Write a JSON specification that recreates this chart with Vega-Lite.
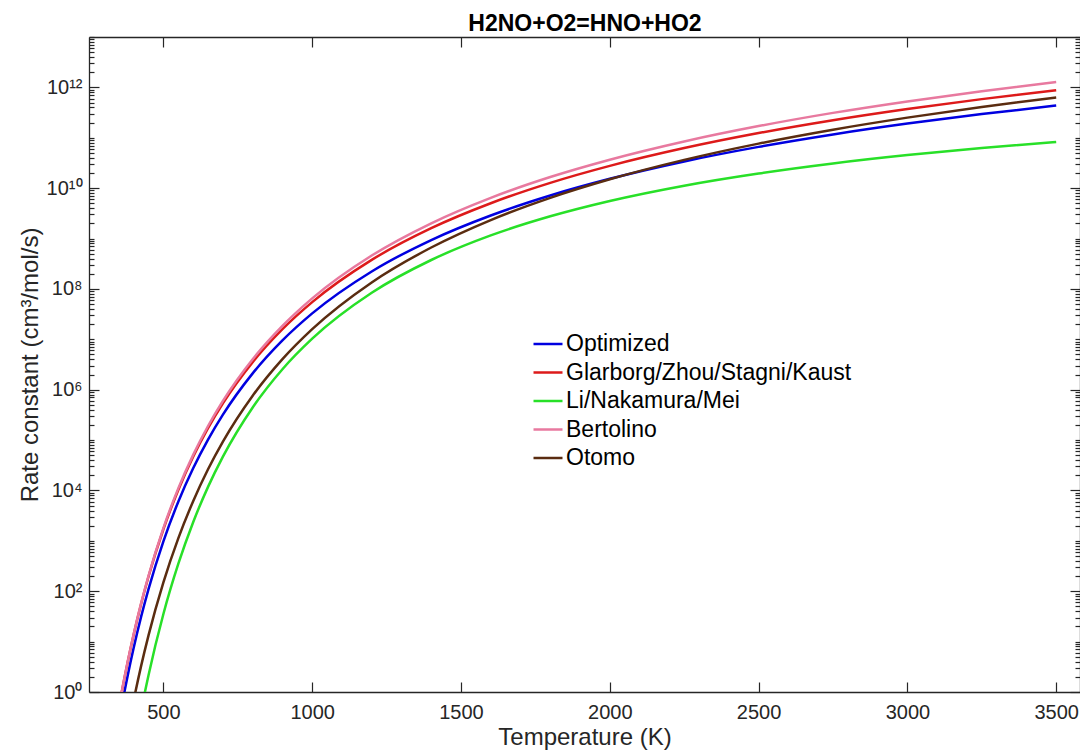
{
  "$schema": "https://vega.github.io/schema/vega-lite/v6.json",
  "width": 991,
  "height": 655,
  "autosize": {"type": "none"},
  "padding": {"left": 89, "top": 37, "right": 0, "bottom": 61},
  "background": "white",
  "config": {
    "font": "Liberation Sans",
    "view": {"stroke": null},
    "axis": {
      "grid": false,
      "domainColor": "#262626",
      "domainWidth": 1.3,
      "tickColor": "#262626",
      "tickWidth": 1.2,
      "labelColor": "#262626",
      "labelFont": "Liberation Sans",
      "labelFontSize": 20,
      "titleColor": "#262626",
      "titleFont": "Liberation Sans",
      "titleFontSize": 24,
      "titleFontWeight": "normal",
      "labelFlush": false,
      "labelOverlap": false,
      "labelBound": false
    }
  },
  "data": {
    "values": [
      {"model": "Optimized", "T": 340, "k": 0.111},
      {"model": "Optimized", "T": 360, "k": 0.524},
      {"model": "Optimized", "T": 380, "k": 2.11},
      {"model": "Optimized", "T": 400, "k": 7.46},
      {"model": "Optimized", "T": 425, "k": 30.9},
      {"model": "Optimized", "T": 450, "k": 110},
      {"model": "Optimized", "T": 500, "k": 977},
      {"model": "Optimized", "T": 550, "k": 5970},
      {"model": "Optimized", "T": 600, "k": 2.75e4},
      {"model": "Optimized", "T": 650, "k": 1.023e5},
      {"model": "Optimized", "T": 700, "k": 3.2e5},
      {"model": "Optimized", "T": 800, "k": 2.11e6},
      {"model": "Optimized", "T": 900, "k": 9.51e6},
      {"model": "Optimized", "T": 1000, "k": 3.27e7},
      {"model": "Optimized", "T": 1200, "k": 2.22e8},
      {"model": "Optimized", "T": 1400, "k": 9.33e8},
      {"model": "Optimized", "T": 1600, "k": 2.87e9},
      {"model": "Optimized", "T": 1800, "k": 7.16e9},
      {"model": "Optimized", "T": 2000, "k": 1.531e10},
      {"model": "Optimized", "T": 2250, "k": 3.39e10},
      {"model": "Optimized", "T": 2500, "k": 6.59e10},
      {"model": "Optimized", "T": 2750, "k": 1.164e11},
      {"model": "Optimized", "T": 3000, "k": 1.91e11},
      {"model": "Optimized", "T": 3250, "k": 2.95e11},
      {"model": "Optimized", "T": 3500, "k": 4.36e11},

      {"model": "Glarborg/Zhou/Stagni/Kaust", "T": 340, "k": 0.216},
      {"model": "Glarborg/Zhou/Stagni/Kaust", "T": 360, "k": 0.997},
      {"model": "Glarborg/Zhou/Stagni/Kaust", "T": 380, "k": 3.94},
      {"model": "Glarborg/Zhou/Stagni/Kaust", "T": 400, "k": 13.7},
      {"model": "Glarborg/Zhou/Stagni/Kaust", "T": 425, "k": 55.7},
      {"model": "Glarborg/Zhou/Stagni/Kaust", "T": 450, "k": 196},
      {"model": "Glarborg/Zhou/Stagni/Kaust", "T": 500, "k": 1698},
      {"model": "Glarborg/Zhou/Stagni/Kaust", "T": 550, "k": 1.023e4},
      {"model": "Glarborg/Zhou/Stagni/Kaust", "T": 600, "k": 4.67e4},
      {"model": "Glarborg/Zhou/Stagni/Kaust", "T": 650, "k": 1.722e5},
      {"model": "Glarborg/Zhou/Stagni/Kaust", "T": 700, "k": 5.36e5},
      {"model": "Glarborg/Zhou/Stagni/Kaust", "T": 800, "k": 3.52e6},
      {"model": "Glarborg/Zhou/Stagni/Kaust", "T": 900, "k": 1.585e7},
      {"model": "Glarborg/Zhou/Stagni/Kaust", "T": 1000, "k": 5.47e7},
      {"model": "Glarborg/Zhou/Stagni/Kaust", "T": 1200, "k": 3.77e8},
      {"model": "Glarborg/Zhou/Stagni/Kaust", "T": 1400, "k": 1.607e9},
      {"model": "Glarborg/Zhou/Stagni/Kaust", "T": 1600, "k": 5.02e9},
      {"model": "Glarborg/Zhou/Stagni/Kaust", "T": 1800, "k": 1.274e10},
      {"model": "Glarborg/Zhou/Stagni/Kaust", "T": 2000, "k": 2.77e10},
      {"model": "Glarborg/Zhou/Stagni/Kaust", "T": 2250, "k": 6.24e10},
      {"model": "Glarborg/Zhou/Stagni/Kaust", "T": 2500, "k": 1.239e11},
      {"model": "Glarborg/Zhou/Stagni/Kaust", "T": 2750, "k": 2.23e11},
      {"model": "Glarborg/Zhou/Stagni/Kaust", "T": 3000, "k": 3.72e11},
      {"model": "Glarborg/Zhou/Stagni/Kaust", "T": 3250, "k": 5.85e11},
      {"model": "Glarborg/Zhou/Stagni/Kaust", "T": 3500, "k": 8.75e11},

      {"model": "Li/Nakamura/Mei", "T": 400, "k": 0.0656},
      {"model": "Li/Nakamura/Mei", "T": 425, "k": 0.417},
      {"model": "Li/Nakamura/Mei", "T": 450, "k": 2.16},
      {"model": "Li/Nakamura/Mei", "T": 500, "k": 35.4},
      {"model": "Li/Nakamura/Mei", "T": 550, "k": 348},
      {"model": "Li/Nakamura/Mei", "T": 600, "k": 2344},
      {"model": "Li/Nakamura/Mei", "T": 650, "k": 1.178e4},
      {"model": "Li/Nakamura/Mei", "T": 700, "k": 4.69e4},
      {"model": "Li/Nakamura/Mei", "T": 800, "k": 4.44e5},
      {"model": "Li/Nakamura/Mei", "T": 900, "k": 2.55e6},
      {"model": "Li/Nakamura/Mei", "T": 1000, "k": 1.03e7},
      {"model": "Li/Nakamura/Mei", "T": 1200, "k": 8.39e7},
      {"model": "Li/Nakamura/Mei", "T": 1400, "k": 3.75e8},
      {"model": "Li/Nakamura/Mei", "T": 1600, "k": 1.153e9},
      {"model": "Li/Nakamura/Mei", "T": 1800, "k": 2.76e9},
      {"model": "Li/Nakamura/Mei", "T": 2000, "k": 5.56e9},
      {"model": "Li/Nakamura/Mei", "T": 2250, "k": 1.119e10},
      {"model": "Li/Nakamura/Mei", "T": 2500, "k": 1.954e10},
      {"model": "Li/Nakamura/Mei", "T": 2750, "k": 3.09e10},
      {"model": "Li/Nakamura/Mei", "T": 3000, "k": 4.53e10},
      {"model": "Li/Nakamura/Mei", "T": 3250, "k": 6.25e10},
      {"model": "Li/Nakamura/Mei", "T": 3500, "k": 8.24e10},

      {"model": "Bertolino", "T": 340, "k": 0.214},
      {"model": "Bertolino", "T": 360, "k": 1.0},
      {"model": "Bertolino", "T": 380, "k": 3.98},
      {"model": "Bertolino", "T": 400, "k": 13.96},
      {"model": "Bertolino", "T": 425, "k": 57.3},
      {"model": "Bertolino", "T": 450, "k": 203},
      {"model": "Bertolino", "T": 500, "k": 1795},
      {"model": "Bertolino", "T": 550, "k": 1.099e4},
      {"model": "Bertolino", "T": 600, "k": 5.08e4},
      {"model": "Bertolino", "T": 650, "k": 1.901e5},
      {"model": "Bertolino", "T": 700, "k": 5.98e5},
      {"model": "Bertolino", "T": 800, "k": 4.02e6},
      {"model": "Bertolino", "T": 900, "k": 1.845e7},
      {"model": "Bertolino", "T": 1000, "k": 6.49e7},
      {"model": "Bertolino", "T": 1200, "k": 4.6e8},
      {"model": "Bertolino", "T": 1400, "k": 2.01e9},
      {"model": "Bertolino", "T": 1600, "k": 6.43e9},
      {"model": "Bertolino", "T": 1800, "k": 1.663e10},
      {"model": "Bertolino", "T": 2000, "k": 3.67e10},
      {"model": "Bertolino", "T": 2250, "k": 8.45e10},
      {"model": "Bertolino", "T": 2500, "k": 1.706e11},
      {"model": "Bertolino", "T": 2750, "k": 3.12e11},
      {"model": "Bertolino", "T": 3000, "k": 5.27e11},
      {"model": "Bertolino", "T": 3250, "k": 8.41e11},
      {"model": "Bertolino", "T": 3500, "k": 1.274e12},

      {"model": "Otomo", "T": 360, "k": 0.0354},
      {"model": "Otomo", "T": 380, "k": 0.166},
      {"model": "Otomo", "T": 400, "k": 0.675},
      {"model": "Otomo", "T": 425, "k": 3.26},
      {"model": "Otomo", "T": 450, "k": 13.3},
      {"model": "Otomo", "T": 500, "k": 150},
      {"model": "Otomo", "T": 550, "k": 1122},
      {"model": "Otomo", "T": 600, "k": 6120},
      {"model": "Otomo", "T": 650, "k": 2.63e4},
      {"model": "Otomo", "T": 700, "k": 9.31e4},
      {"model": "Otomo", "T": 800, "k": 7.59e5},
      {"model": "Otomo", "T": 900, "k": 4.04e6},
      {"model": "Otomo", "T": 1000, "k": 1.592e7},
      {"model": "Otomo", "T": 1200, "k": 1.346e8},
      {"model": "Otomo", "T": 1400, "k": 6.64e8},
      {"model": "Otomo", "T": 1600, "k": 2.33e9},
      {"model": "Otomo", "T": 1800, "k": 6.43e9},
      {"model": "Otomo", "T": 2000, "k": 1.5e10},
      {"model": "Otomo", "T": 2250, "k": 3.64e10},
      {"model": "Otomo", "T": 2500, "k": 7.66e10},
      {"model": "Otomo", "T": 2750, "k": 1.445e11},
      {"model": "Otomo", "T": 3000, "k": 2.51e11},
      {"model": "Otomo", "T": 3250, "k": 4.09e11},
      {"model": "Otomo", "T": 3500, "k": 6.31e11}
    ]
  },
  "layer": [
    {
      "mark": {"type": "line", "strokeWidth": 2.5, "clip": true, "interpolate": "monotone"},
      "encoding": {
        "x": {
          "field": "T",
          "type": "quantitative",
          "scale": {"domain": [250, 3580], "nice": false, "zero": false},
          "axis": {
            "orient": "bottom",
            "title": "Temperature (K)",
            "values": [500, 1000, 1500, 2000, 2500, 3000, 3500],
            "format": "d",
            "tickSize": -10,
            "labelPadding": 20,
            "titlePadding": 3
          }
        },
        "y": {
          "field": "k",
          "type": "quantitative",
          "scale": {"type": "log", "domain": [1, 1e13], "nice": false},
          "axis": {
            "orient": "left",
            "title": "Rate constant (cm³/mol/s)",
            "tickCount": 200,
            "tickSize": {
              "condition": {
                "test": "abs(log(datum.value)/LN10 - round(log(datum.value)/LN10)) < 0.001 && round(log(datum.value)/LN10) % 2 == 0",
                "value": -10
              },
              "value": -5
            },
            "labelExpr": "(abs(log(datum.value)/LN10 - round(log(datum.value)/LN10)) < 0.001 && round(log(datum.value)/LN10) % 2 == 0) ? '10' + ['⁰','¹','²','³','⁴','⁵','⁶','⁷','⁸','⁹','¹⁰','¹¹','¹²','¹³'][round(log(datum.value)/LN10)] : ''",
            "labelPadding": 17,
            "titlePadding": 4
          }
        },
        "color": {
          "field": "model",
          "type": "nominal",
          "scale": {
            "domain": ["Optimized", "Glarborg/Zhou/Stagni/Kaust", "Li/Nakamura/Mei", "Bertolino", "Otomo"],
            "range": ["#0000e0", "#dd1a1a", "#28e028", "#e8799f", "#5a2c10"]
          },
          "legend": {
            "orient": "none",
            "legendX": 443,
            "legendY": 291,
            "title": null,
            "padding": 0,
            "symbolType": "stroke",
            "symbolSize": 841,
            "symbolStrokeWidth": 2.5,
            "labelFont": "Liberation Sans",
            "labelFontSize": 23,
            "labelColor": "#000000",
            "labelOffset": 2,
            "labelLimit": 400,
            "rowPadding": 0.5
          }
        }
      }
    },
    {
      "mark": {"type": "line", "opacity": 0, "clip": true},
      "encoding": {
        "x": {
          "field": "T",
          "type": "quantitative",
          "axis": {
            "orient": "top",
            "title": "H2NO+O2=HNO+HO2",
            "titleFontSize": 23,
            "titleFontWeight": "bold",
            "titleColor": "#000000",
            "titleBaseline": "alphabetic",
            "titlePadding": 6,
            "labels": false,
            "values": [500, 1000, 1500, 2000, 2500, 3000, 3500],
            "tickSize": -10
          }
        },
        "y": {
          "field": "k",
          "type": "quantitative",
          "axis": {
            "orient": "right",
            "title": null,
            "labels": false,
            "tickCount": 200,
            "tickSize": {
              "condition": {
                "test": "abs(log(datum.value)/LN10 - round(log(datum.value)/LN10)) < 0.001 && round(log(datum.value)/LN10) % 2 == 0",
                "value": -10
              },
              "value": -5
            }
          }
        },
        "detail": {"field": "model", "type": "nominal"}
      }
    }
  ],
  "resolve": {"axis": {"x": "independent", "y": "independent"}}
}
